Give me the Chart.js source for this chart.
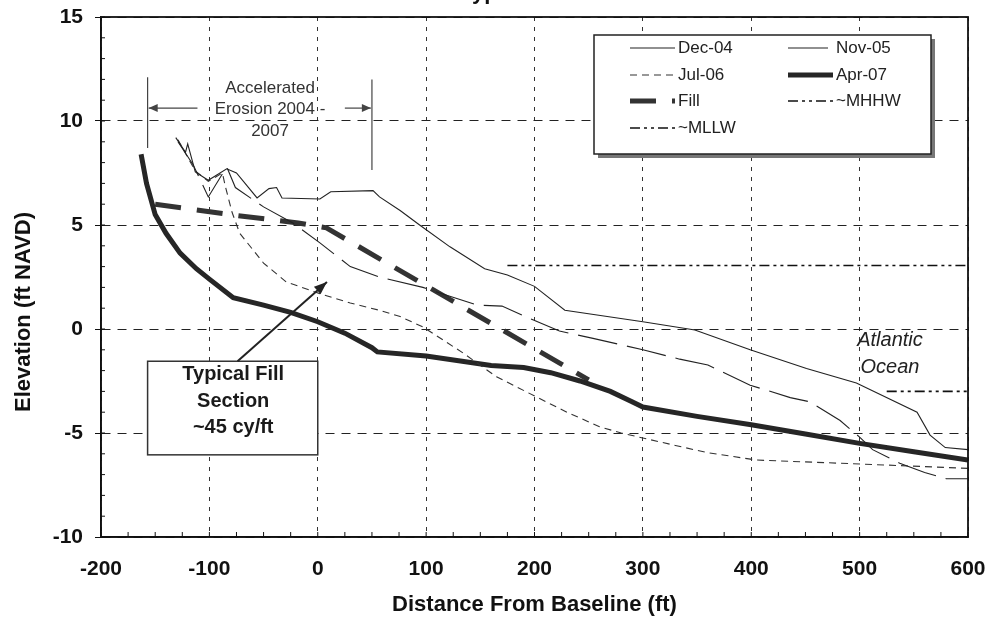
<!DOCTYPE html>
<html><head><meta charset="utf-8">
<script src="https://cdn.jsdelivr.net/npm/chart.js@4.4.1/dist/chart.umd.min.js"></script>
<style>html,body{margin:0;padding:0;background:#fff}#wrap{width:992px;height:624px;position:relative}</style>
</head><body><div id="wrap"><canvas id="c" width="992" height="624"></canvas></div>
<script>
// ---- data ----
const dec04X = [-131, -122, -120, -113, -101, -84, -75, -56, -45, -38, -33, 2, 12, 51, 57, 76, 94, 122, 154, 175, 200, 228, 300, 348, 399, 451, 497, 553, 565, 579, 600];
const dec04Y = [9.2, 8.5, 8.9, 7.55, 7.15, 7.7, 7.5, 6.3, 6.75, 6.8, 6.3, 6.25, 6.6, 6.65, 6.35, 5.7, 5.0, 3.95, 2.9, 2.6, 2.05, 0.9, 0.35, -0.05, -1.0, -1.9, -2.6, -4.0, -5.1, -5.7, -5.8];
const nov05X = [-129, -115, -101, -84, -76, -50, -23, 2, 30, 57, 97, 147, 170, 199, 223, 254, 300, 334, 360, 399, 436, 454, 482, 500, 512, 537, 560, 580, 600];
const nov05Y = [9.0, 7.9, 6.35, 7.8, 6.8, 5.87, 5.1, 4.14, 3.0, 2.5, 2.0, 1.15, 1.1, 0.43, -0.1, -0.45, -1.0, -1.45, -1.73, -2.7, -3.3, -3.5, -4.4, -5.2, -5.8, -6.45, -6.9, -7.2, -7.2];
const jul06X = [-129, -113, -101, -88, -85, -79, -72, -50, -29, 2, 30, 57, 76, 97, 134, 165, 202, 230, 260, 280, 305, 330, 360, 405, 505, 600];
const jul06Y = [9.1, 7.6, 7.1, 7.5, 6.8, 5.6, 4.6, 3.17, 2.26, 1.7, 1.25, 0.9, 0.6, 0.1, -1.15, -2.3, -3.27, -4.0, -4.7, -5.0, -5.3, -5.6, -5.95, -6.3, -6.5, -6.7];
const apr07X = [-163, -158, -150, -140, -127, -112, -100, -78, -50, -25, 0, 25, 50, 55, 100, 160, 190, 215, 242, 270, 290, 300, 350, 400, 450, 500, 550, 600];
const apr07Y = [8.4, 7.0, 5.5, 4.6, 3.65, 2.9, 2.4, 1.5, 1.15, 0.8, 0.35, -0.2, -0.9, -1.1, -1.3, -1.75, -1.85, -2.1, -2.5, -3.0, -3.5, -3.75, -4.2, -4.6, -5.05, -5.5, -5.9, -6.3];
const fillX = [-150, -78, -18, 8, 250];
const fillY = [6.0, 5.48, 5.1, 4.86, -2.45];
const mhhwX = [175, 600];
const mhhwY = [3.05, 3.05];
const mllwX = [525, 600];
const mllwY = [-3.0, -3.0];
const seriesNames = ['Dec-04', 'Nov-05', 'Jul-06', 'Apr-07', 'Fill', '~MHHW', '~MLLW'];
const xTicks = [-200, -100, 0, 100, 200, 300, 400, 500, 600];
const yTicks = [-10, -5, 0, 5, 10, 15];

const FONT = '"Liberation Sans", Arial, sans-serif';
const pts = (xs, ys) => xs.map((x, i) => ({x, y: ys[i]}));

const styles = [
  {borderColor: '#222', borderWidth: 1.1, borderDash: []},
  {borderColor: '#222', borderWidth: 1.1, borderDash: [40, 10]},
  {borderColor: '#333', borderWidth: 1.1, borderDash: [7, 5]},
  {borderColor: '#262626', borderWidth: 5, borderDash: []},
  {borderColor: '#333', borderWidth: 5, borderDash: [26, 16]},
  {borderColor: '#111', borderWidth: 1.6, borderDash: [10, 4, 3, 4, 3, 4]},
  {borderColor: '#111', borderWidth: 1.6, borderDash: [10, 4, 3, 4, 3, 4]}
];
const seriesData = [pts(dec04X, dec04Y), pts(nov05X, nov05Y), pts(jul06X, jul06Y), pts(apr07X, apr07Y), pts(fillX, fillY), pts(mhhwX, mhhwY), pts(mllwX, mllwY)];

const datasets = seriesNames.map((n, i) => Object.assign({
  label: n, data: seriesData[i], showLine: true, pointRadius: 0, tension: 0, fill: false
}, styles[i]));

function arrow(ctx, x1, y1, x2, y2, len, wid) {
  ctx.beginPath(); ctx.moveTo(x1, y1); ctx.lineTo(x2, y2); ctx.stroke();
  const a = Math.atan2(y2 - y1, x2 - x1);
  ctx.beginPath();
  ctx.moveTo(x2, y2);
  ctx.lineTo(x2 - len * Math.cos(a) + wid * Math.sin(a), y2 - len * Math.sin(a) - wid * Math.cos(a));
  ctx.lineTo(x2 - len * Math.cos(a) - wid * Math.sin(a), y2 - len * Math.sin(a) + wid * Math.cos(a));
  ctx.closePath(); ctx.fill();
}

const overlay = {
  id: 'overlay',
  beforeDraw(chart) {
    const ctx = chart.ctx; ctx.save(); ctx.fillStyle = '#fff'; ctx.fillRect(0, 0, chart.width, chart.height); ctx.restore();
  },
  afterDraw(chart) {
    const ctx = chart.ctx, ca = chart.chartArea, sx = chart.scales.x, sy = chart.scales.y;
    const X = v => sx.getPixelForValue(v), Y = v => sy.getPixelForValue(v);
    ctx.save();
    // frame
    ctx.strokeStyle = '#111'; ctx.lineWidth = 1.8; ctx.setLineDash([]);
    ctx.strokeRect(ca.left, ca.top, ca.right - ca.left, ca.bottom - ca.top);
    // minor ticks
    ctx.lineWidth = 1;
    for (let v = -200; v <= 600; v += 25) { ctx.beginPath(); ctx.moveTo(X(v), ca.bottom); ctx.lineTo(X(v), ca.bottom - 5); ctx.stroke(); }
    for (let v = -10; v <= 15; v += 1) { ctx.beginPath(); ctx.moveTo(ca.left, Y(v)); ctx.lineTo(ca.left + 4, Y(v)); ctx.stroke(); }
    // top (cropped) title
    ctx.fillStyle = '#111'; ctx.font = 'bold 22px ' + FONT; ctx.textAlign = 'center'; ctx.textBaseline = 'alphabetic';
    ctx.fillText('Typical Profile', (ca.left + ca.right) / 2, -1);
    // axis titles
    ctx.font = 'bold 22px ' + FONT; ctx.textBaseline = 'middle';
    ctx.fillText('Distance From Baseline (ft)', (ca.left + ca.right) / 2, 605);
    ctx.save(); ctx.translate(24, 312); ctx.rotate(-Math.PI / 2); ctx.fillText('Elevation (ft NAVD)', 0, 0); ctx.restore();
    // Accelerated erosion annotation
    ctx.strokeStyle = '#444'; ctx.fillStyle = '#444'; ctx.lineWidth = 1.2;
    ctx.beginPath(); ctx.moveTo(X(-157), Y(12.1)); ctx.lineTo(X(-157), Y(8.7)); ctx.stroke();
    ctx.beginPath(); ctx.moveTo(X(50), Y(12.0)); ctx.lineTo(X(50), Y(7.65)); ctx.stroke();
    arrow(ctx, X(-111), Y(10.62), X(-156), Y(10.62), 9, 4);
    arrow(ctx, X(25), Y(10.62), X(49), Y(10.62), 9, 4);
    ctx.fillStyle = '#333'; ctx.font = '17px ' + FONT; ctx.textAlign = 'center'; ctx.textBaseline = 'middle';
    ctx.fillText('Accelerated', X(-44), Y(11.55));
    ctx.fillText('Erosion 2004 -', X(-44), Y(10.55));
    ctx.fillText('2007', X(-44), Y(9.5));
    // Typical fill box
    ctx.strokeStyle = '#333'; ctx.lineWidth = 1.5;
    ctx.fillStyle = '#fff';
    const bx = X(-157), by = Y(-1.55), bw = X(0) - X(-157), bh = Y(-6.05) - Y(-1.55);
    ctx.fillRect(bx, by, bw, bh); ctx.strokeRect(bx, by, bw, bh);
    ctx.strokeStyle = '#222'; ctx.fillStyle = '#222'; ctx.lineWidth = 2;
    arrow(ctx, X(-74), Y(-1.55), X(8.5), Y(2.26), 13, 5);
    ctx.fillStyle = '#1a1a1a'; ctx.font = 'bold 20px ' + FONT;
    ctx.fillText('Typical Fill', X(-78), Y(-2.2));
    ctx.fillText('Section', X(-78), Y(-3.5));
    ctx.fillText('~45 cy/ft', X(-78), Y(-4.75));
    // Atlantic Ocean
    ctx.font = 'italic 20px ' + FONT; ctx.fillStyle = '#222';
    ctx.fillText('Atlantic', X(528), Y(-0.57));
    ctx.fillText('Ocean', X(528), Y(-1.87));
    // legend
    const L = 594, T = 35, R = 931, B = 154;
    ctx.fillStyle = '#777'; ctx.fillRect(L + 4, B, R - L, 4); ctx.fillRect(R, T + 4, 4, B - T);
    ctx.fillStyle = '#fff'; ctx.fillRect(L, T, R - L, B - T);
    ctx.strokeStyle = '#222'; ctx.lineWidth = 1.5; ctx.setLineDash([]); ctx.strokeRect(L, T, R - L, B - T);
    const cols = [630, 788], rows = [48, 75, 101, 128];
    ctx.font = '17px ' + FONT; ctx.textAlign = 'left'; ctx.textBaseline = 'middle';
    datasets.forEach((d, i) => {
      const cx = cols[i % 2], cy = rows[Math.floor(i / 2)];
      ctx.strokeStyle = d.borderColor; ctx.lineWidth = d.borderWidth; ctx.setLineDash(d.borderDash);
      ctx.beginPath(); ctx.moveTo(cx, cy); ctx.lineTo(cx + 45, cy); ctx.stroke();
      ctx.setLineDash([]); ctx.fillStyle = '#222';
      ctx.fillText(d.label, cx + 48, cy);
    });
    ctx.restore();
  }
};

new Chart(document.getElementById('c'), {
  type: 'scatter',
  data: {datasets},
  plugins: [overlay],
  options: {
    responsive: false, animation: false, devicePixelRatio: 1,
    layout: {padding: {left: 0, right: 24, top: 17, bottom: 0}},
    plugins: {legend: {display: false}, tooltip: {enabled: false}, title: {display: false}},
    scales: {
      x: {
        type: 'linear', min: xTicks[0], max: xTicks[xTicks.length - 1],
        afterBuildTicks: s => { s.ticks = xTicks.map(v => ({value: v})); },
        afterFit: s => { s.height = 87; s.paddingLeft = 0; s.paddingRight = 0; s.paddingTop = 0; s.paddingBottom = 0; },
        ticks: {color: '#111', font: {family: FONT, size: 21, weight: 'bold'}, padding: 20, maxRotation: 0},
        grid: {color: '#333', lineWidth: 1, drawTicks: false},
        border: {display: true, color: '#111', width: 1.5, dash: [4, 6]}
      },
      y: {
        type: 'linear', min: yTicks[0], max: yTicks[yTicks.length - 1],
        afterBuildTicks: s => { s.ticks = yTicks.map(v => ({value: v})); },
        afterFit: s => { s.width = 101; s.paddingLeft = 0; s.paddingRight = 0; s.paddingTop = 0; s.paddingBottom = 0; },
        ticks: {color: '#111', font: {family: FONT, size: 21, weight: 'bold'}, padding: 12},
        grid: {color: '#222', lineWidth: 1, tickLength: 6, tickBorderDash: [], tickColor: '#111'},
        border: {display: true, color: '#111', width: 1.5, dash: [9, 7]}
      }
    }
  }
});
</script></body></html>
